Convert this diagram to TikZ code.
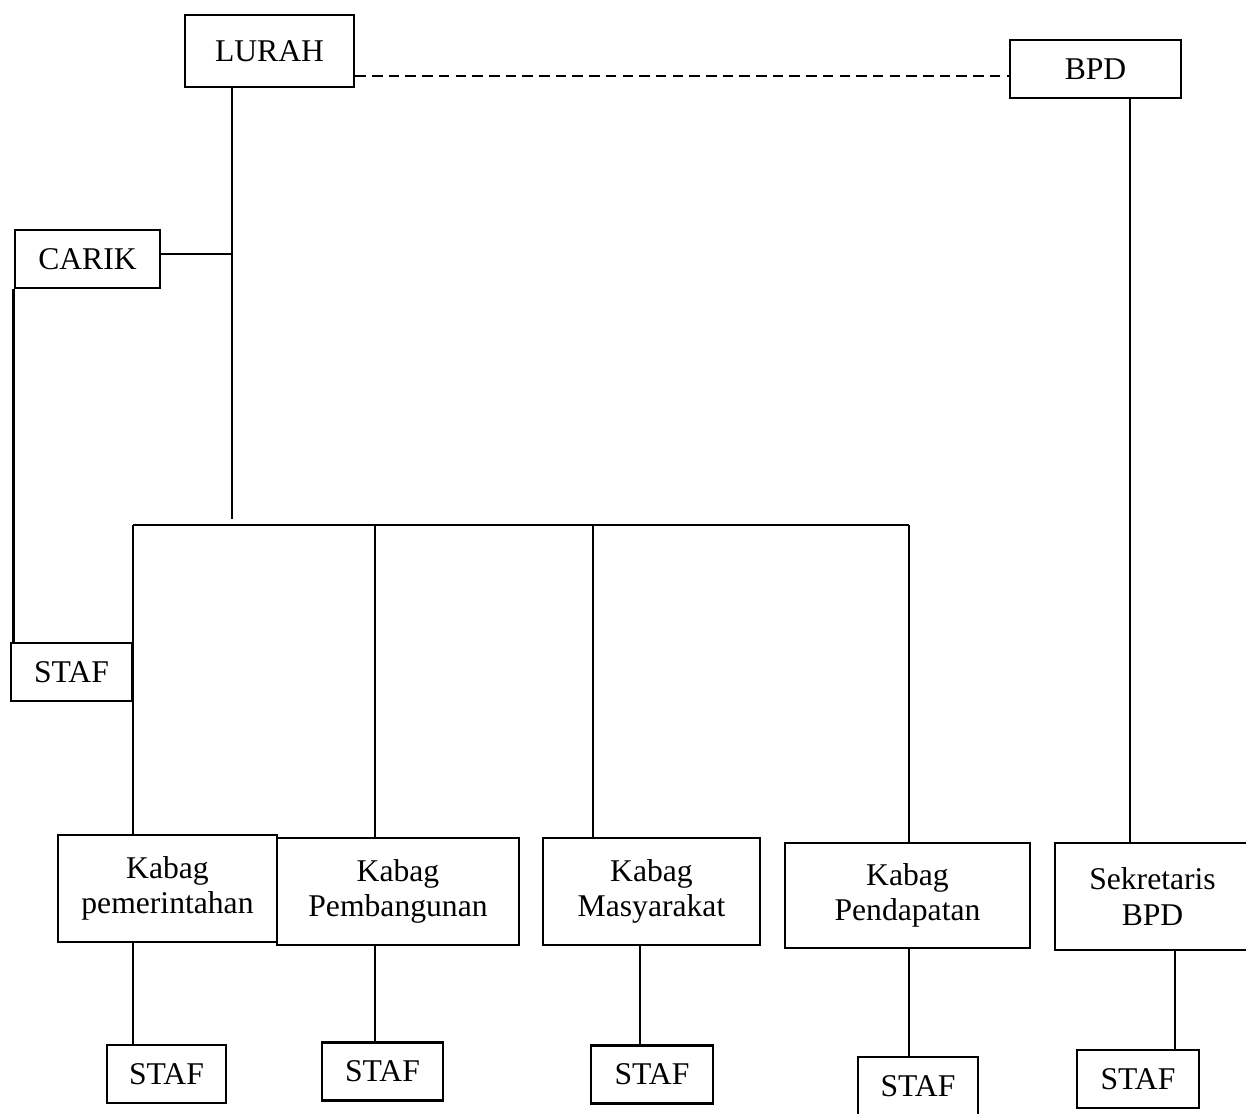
\documentclass[tikz,border=0pt]{standalone}
\usepackage{fontspec}
\setmainfont{Liberation Serif}
\tikzset{
  box/.style={draw,line width=1.6pt,inner sep=0pt,align=center,font=\fontsize{18}{20}\selectfont},
  unit/.style={box,minimum height=1.16cm},
  kabag/.style={box,minimum height=2.14cm},
  link/.style={line width=1.5pt},
  link dashed/.style={link,dash pattern=on 6pt off 3.5pt}
}

\begin{document}
\begin{tikzpicture}
  \useasboundingbox (0,0) rectangle (24.92,-22.26);

  % Top level
  \node[box,minimum width=3.38cm,minimum height=1.44cm] (lurah) at (5.39,-1.02) {LURAH};
  \node[unit,minimum width=3.42cm] (bpd) at (21.91,-1.38) {BPD};
  \node[unit,minimum width=2.9cm] (carik) at (1.75,-5.18) {CARIK};
  \node[unit,minimum width=2.42cm] (staf0) at (1.43,-13.44) {STAF};

  % Kabag row
  \node[kabag,minimum width=4.38cm] (kab1) at (3.35,-17.77) {Kabag\\pemerintahan};
  \node[kabag,minimum width=4.84cm] (kab2) at (7.96,-17.83) {Kabag\\Pembangunan};
  \node[kabag,minimum width=4.34cm] (kab3) at (13.03,-17.83) {Kabag\\Masyarakat};
  \node[kabag,minimum width=4.9cm,minimum height=2.1cm] (kab4) at (18.15,-17.91) {Kabag\\Pendapatan};
  \node[kabag,minimum width=3.9cm] (sek) at (23.05,-17.93) {Sekretaris\\BPD};

  % Staf row
  \node[unit,minimum width=2.38cm] (staf1) at (3.33,-21.48) {STAF};
  \node[unit,minimum width=2.42cm] (staf2) at (7.65,-21.43) {STAF};
  \node[unit,minimum width=2.44cm] (staf3) at (13.04,-21.49) {STAF};
  \node[unit,minimum width=2.4cm] (staf4) at (18.36,-21.72) {STAF};
  \node[unit,minimum width=2.44cm] (staf5) at (22.76,-21.58) {STAF};

  % Trunk and bus
  \coordinate (trunk) at (4.64,-10.38);
  \coordinate (bus1) at (2.66,-10.5);
  \coordinate (bus2) at (7.5,-10.5);
  \coordinate (bus3) at (11.86,-10.5);
  \coordinate (bus4) at (18.18,-10.5);

  % Lurah - BPD
  \draw[link dashed] ([yshift=-0.5cm]lurah.east) -- ([yshift=-0.5cm]lurah.east -| bpd.west);

  % Lurah -> Carik -> Kabag
  \draw[link] (lurah.south -| trunk) -- (trunk);
  \draw[link] ([yshift=0.1cm]carik.east) -- ([yshift=0.1cm]carik.east -| trunk);
  \draw[link] (carik.south west) -- (carik.south west |- staf0.north);
  \draw[link] (bus1) -- (bus4);
  \foreach \i in {1,...,4}
    \draw[link] (bus\i) -- (bus\i |- kab\i.north);

  % Kabag -> Staf
  \foreach \i in {1,2,4}
    \draw[link] (kab\i.south -| bus\i) -- (staf\i.north -| bus\i);
  \draw[link] ([xshift=-0.24cm]staf3.north) -- ([xshift=-0.24cm]staf3.north |- kab3.south);

  % BPD -> Sekretaris -> Staf
  \draw[link] ([xshift=0.69cm]bpd.south) -- ([xshift=0.69cm]bpd.south |- sek.north);
  \draw[link] ([xshift=0.74cm]staf5.north) -- ([xshift=0.74cm]staf5.north |- sek.south);

\end{tikzpicture}
\end{document}
